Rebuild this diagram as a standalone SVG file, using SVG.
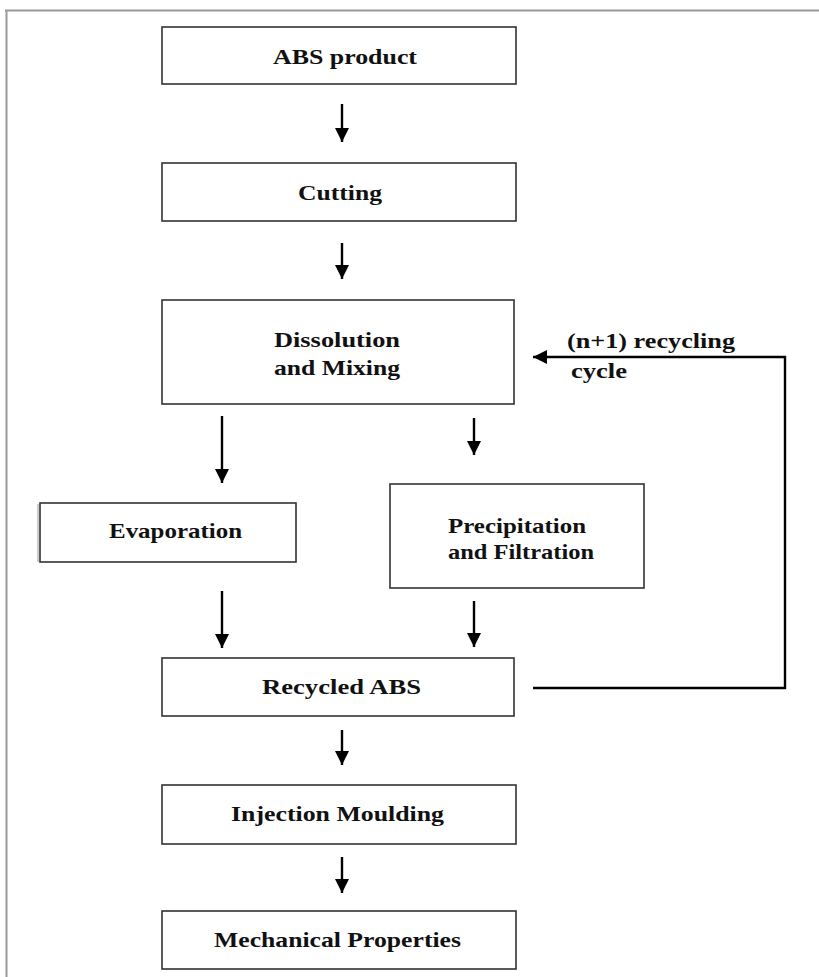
<svg xmlns="http://www.w3.org/2000/svg" width="819" height="977" viewBox="0 0 819 977">
<style>
.box{fill:#fff;stroke:#333;stroke-width:1.6}
.t{font-family:"Liberation Serif","Times New Roman",serif;font-weight:bold;font-size:21px;fill:#111}
.c{stroke:#000;stroke-width:2.4;fill:none}
.frame{stroke:#999;stroke-width:2;fill:none}
</style>
<defs>
<marker id="ah" viewBox="0 0 10 10" refX="10" refY="5" markerWidth="6" markerHeight="6" markerUnits="strokeWidth" orient="auto">
<path d="M0,0 L10,5 L0,10 z" fill="#000"/>
</marker>
</defs>
<rect width="819" height="977" fill="#fff"/>
<path class="frame" d="M5,10.5 H819 M6.5,10 V977"/>
<g id="n1"><rect class="box" x="162" y="27" width="354" height="57"/><text class="t" x="273" y="64" textLength="144" lengthAdjust="spacingAndGlyphs">ABS product</text></g>
<g id="n2"><rect class="box" x="162" y="163" width="354" height="58"/><text class="t" x="298" y="200" textLength="84" lengthAdjust="spacingAndGlyphs">Cutting</text></g>
<g id="n3"><rect class="box" x="162" y="300" width="352" height="104"/><text class="t" x="274" y="347" textLength="126" lengthAdjust="spacingAndGlyphs">Dissolution</text><text class="t" x="274" y="375" textLength="126" lengthAdjust="spacingAndGlyphs">and Mixing</text></g>
<g id="n4"><line x1="38" y1="504" x2="38" y2="562" stroke="#bbb" stroke-width="1.5"/><rect class="box" x="40" y="503" width="256" height="59"/><text class="t" x="109" y="538" textLength="133" lengthAdjust="spacingAndGlyphs">Evaporation</text></g>
<g id="n5"><rect class="box" x="390" y="484" width="254" height="104"/><text class="t" x="448" y="533" textLength="138" lengthAdjust="spacingAndGlyphs">Precipitation</text><text class="t" x="448" y="559" textLength="146" lengthAdjust="spacingAndGlyphs">and Filtration</text></g>
<g id="n6"><rect class="box" x="162" y="658" width="352" height="58"/><text class="t" x="262" y="694" textLength="159" lengthAdjust="spacingAndGlyphs">Recycled ABS</text></g>
<g id="n7"><rect class="box" x="162" y="785" width="354" height="59"/><text class="t" x="231" y="821" textLength="213" lengthAdjust="spacingAndGlyphs">Injection Moulding</text></g>
<g id="n8"><rect class="box" x="162" y="911" width="354" height="58"/><text class="t" x="214" y="947" textLength="247" lengthAdjust="spacingAndGlyphs">Mechanical Properties</text></g>
<g id="connectors">
<line class="c" x1="342" y1="104" x2="342" y2="142" marker-end="url(#ah)"/>
<line class="c" x1="342" y1="243" x2="342" y2="279" marker-end="url(#ah)"/>
<line class="c" x1="222" y1="416" x2="222" y2="483" marker-end="url(#ah)"/>
<line class="c" x1="474" y1="418" x2="474" y2="455" marker-end="url(#ah)"/>
<line class="c" x1="222" y1="591" x2="222" y2="648" marker-end="url(#ah)"/>
<line class="c" x1="474" y1="601" x2="474" y2="647" marker-end="url(#ah)"/>
<line class="c" x1="342" y1="730" x2="342" y2="765" marker-end="url(#ah)"/>
<line class="c" x1="342" y1="857" x2="342" y2="893" marker-end="url(#ah)"/>
<path class="c" d="M533,688 H785 V357 H533" marker-end="url(#ah)"/>
<text class="t" x="567" y="348" textLength="168" lengthAdjust="spacingAndGlyphs">(n+1) recycling</text>
<text class="t" x="571" y="378" textLength="56" lengthAdjust="spacingAndGlyphs">cycle</text>
</g>
</svg>
